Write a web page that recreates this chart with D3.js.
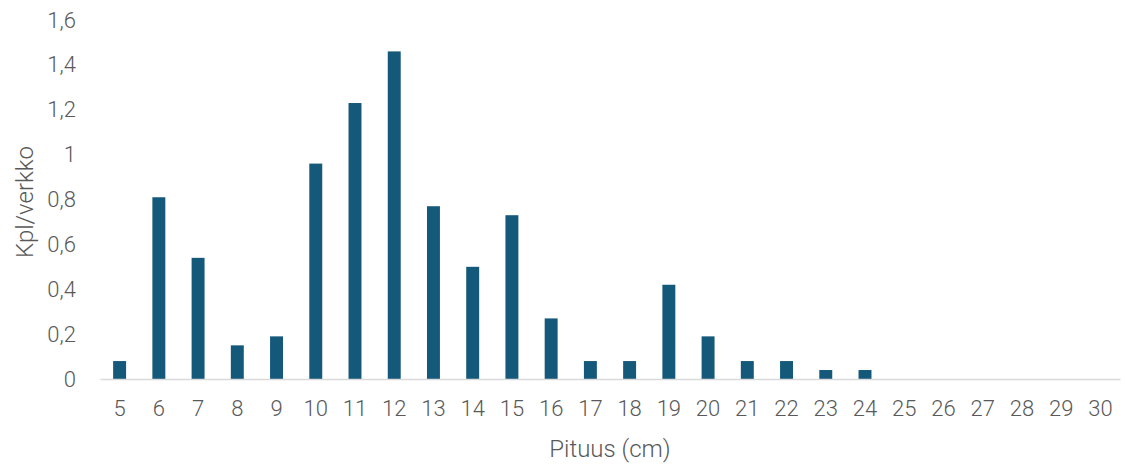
<!DOCTYPE html>
<html lang="fi">
<head>
<meta charset="UTF-8">
<title>Kpl/verkko</title>
<script src="https://d3js.org/d3.v7.min.js"></script>
<style>
  body { margin: 0; background: #fff; }
  text { font-family: Roboto, "Noto Sans", sans-serif; font-weight: 300; fill: #595959; }
</style>
</head>
<body>
<div id="chart"></div>
<script>
// data
var lengths = [5, 6, 7, 8, 9, 10, 11, 12, 13, 14, 15, 16, 17, 18, 19, 20, 21, 22, 23, 24, 25, 26, 27, 28, 29, 30];
var counts  = [0.08, 0.81, 0.54, 0.15, 0.19, 0.96, 1.23, 1.46, 0.77, 0.50, 0.73, 0.27, 0.08, 0.08, 0.42, 0.19, 0.08, 0.08, 0.04, 0.04, 0, 0, 0, 0, 0, 0];
var yTicks  = [0, 0.2, 0.4, 0.6, 0.8, 1, 1.2, 1.4, 1.6];

var W = 1125, H = 466;
var margin = {top: 20, right: 5, bottom: 87, left: 100},
    width = W - margin.left - margin.right,
    height = H - margin.top - margin.bottom;

var svg = d3.select("#chart").append("svg")
    .attr("width", W)
    .attr("height", H)
  .append("g")
    .attr("transform", "translate(" + margin.left + "," + margin.top + ")");

var x = d3.scaleBand()
    .domain(lengths)
    .range([0, width])
    .paddingInner(0.67)
    .paddingOuter(0.335);

var y = d3.scaleLinear()
    .domain([0, 1.6])
    .range([height, 0]);

// bars
svg.append("g")
  .selectAll("rect")
  .data(lengths)
  .enter()
  .append("rect")
    .attr("x", function(d) { return x(d); })
    .attr("y", function(d, i) { return y(counts[i]); })
    .attr("width", x.bandwidth())
    .attr("height", function(d, i) { return height - y(counts[i]); })
    .style("fill", "#14587a");

// x axis
var xAxis = svg.append("g")
    .attr("transform", "translate(0," + height + ")")
    .call(d3.axisBottom(x).tickSize(0).tickPadding(21));
xAxis.select(".domain").attr("stroke", "#d9d9d9").attr("stroke-width", 1.5);
xAxis.selectAll("text").style("font-size", "22px").attr("fill", "#595959");

// y axis (labels only)
var yAxis = svg.append("g")
    .call(d3.axisLeft(y).tickValues(yTicks).tickSize(0).tickPadding(24)
      .tickFormat(function(d) { return d3.format("")(d).replace(".", ","); }));
yAxis.select(".domain").remove();
yAxis.selectAll("text").style("font-size", "22px").attr("fill", "#595959");

// axis titles
svg.append("text")
    .attr("x", width / 2)
    .attr("y", height + 78)
    .attr("text-anchor", "middle")
    .style("font-size", "24px")
    .text("Pituus (cm)");

svg.append("text")
    .attr("transform", "rotate(-90)")
    .attr("x", -(202 - margin.top))
    .attr("y", -margin.left + 33)
    .attr("text-anchor", "middle")
    .style("font-size", "24px")
    .text("Kpl/verkko");
</script>
</body>
</html>
